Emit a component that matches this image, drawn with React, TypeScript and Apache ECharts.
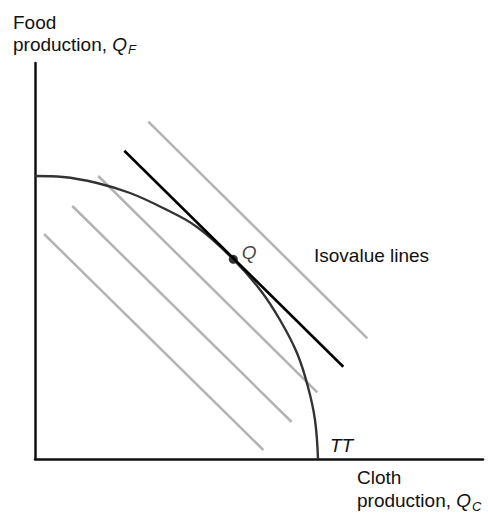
import React, { useEffect, useRef } from "react";
import * as echarts from "echarts";

// Data units: x = cloth production, y = food production (arbitrary units)
const transformationCurve: [number, number][] = [
  [0, 283], [28, 282], [62, 276], [95, 266], [128, 251], [162, 232],
  [198, 200], [226, 168], [245, 139], [262, 106], [273, 72], [280, 39], [283, 0],
];
const tangentLine: [number, number][] = [[89.3, 308.3], [308.3, 92.3]];
const isovalueLines: [number, number][][] = [
  [[113.3, 337.3], [332.3, 120.7]],
  [[63.3, 283], [282.3, 66.7]],
  [[37.3, 253], [256.7, 37]],
  [[9, 225], [228.3, 9]],
];
const pointQ: [number, number][] = [[198.3, 199.7]];
const xMax = 448;
const yMax = 396;

const FONT = "'Liberation Sans', Arial, Helvetica, sans-serif";
const FS = 19;

export default function App() {
  const ref = useRef<HTMLDivElement>(null);
  useEffect(() => {
    if (!ref.current) return;
    const chart = echarts.init(ref.current, undefined, { renderer: "svg" });
    const grayStyle = { color: "#b3b3b3", width: 2.5 };
    const rich = (lh: number) => ({
      n: { fontFamily: FONT, fontSize: FS, lineHeight: lh },
      q: { fontFamily: FONT, fontSize: FS, fontStyle: "italic", lineHeight: lh },
      s: { fontFamily: FONT, fontSize: 13, fontStyle: "italic", lineHeight: 13, verticalAlign: "bottom", padding: [0, 0, -1, 1] },
    });
    chart.setOption({
      animation: false,
      backgroundColor: "#fff",
      grid: { left: 35, right: 5, top: 63, bottom: 55 },
      xAxis: {
        type: "value", min: 0, max: xMax,
        axisLine: { show: true, lineStyle: { color: "#111", width: 2.5 } },
        axisTick: { show: false }, axisLabel: { show: false }, splitLine: { show: false },
      },
      yAxis: {
        type: "value", min: 0, max: yMax,
        axisLine: { show: true, lineStyle: { color: "#111", width: 2.5 } },
        axisTick: { show: false }, axisLabel: { show: false }, splitLine: { show: false },
      },
      series: [
        ...isovalueLines.map((d) => ({
          type: "line", data: d, symbol: "none", lineStyle: grayStyle, silent: true,
        })),
        {
          type: "line", data: transformationCurve, smooth: 0.4, symbol: "none",
          lineStyle: { color: "#333", width: 2.4 }, silent: true,
        },
        {
          type: "line", data: tangentLine, symbol: "none",
          lineStyle: { color: "#000", width: 2.6 }, silent: true,
        },
        {
          type: "scatter", data: pointQ, symbolSize: 9,
          itemStyle: { color: "#000" },
          label: {
            show: true, position: "right", distance: 3, offset: [1, -7],
            formatter: "Q", fontStyle: "italic", fontFamily: FONT, fontSize: FS, color: "#111",
          },
        },
      ],
      graphic: [
        {
          type: "text", left: 13, top: 11,
          style: {
            text: "Food\n{n|production, }{q|Q}{s|F}",
            fontFamily: FONT, fontSize: FS, fill: "#111", lineHeight: 22,
            rich: rich(22),
          },
        },
        {
          type: "text", left: 357, top: 466,
          style: {
            text: "Cloth\n{n|production, }{q|Q}{s|C}",
            fontFamily: FONT, fontSize: FS, fill: "#111", lineHeight: 23,
            rich: rich(23),
          },
        },
        {
          type: "text", left: 314, top: 246,
          style: { text: "Isovalue lines", fontFamily: FONT, fontSize: FS, fill: "#111" },
        },
        {
          type: "text", left: 330, top: 436,
          style: { text: "TT", fontFamily: FONT, fontSize: FS, fontStyle: "italic", fill: "#111" },
        },
      ],
    });
    return () => chart.dispose();
  }, []);
  return (
    <div
      ref={ref}
      style={{ position: "absolute", left: 0, top: 0, width: 488, height: 514 }}
    />
  );
}
